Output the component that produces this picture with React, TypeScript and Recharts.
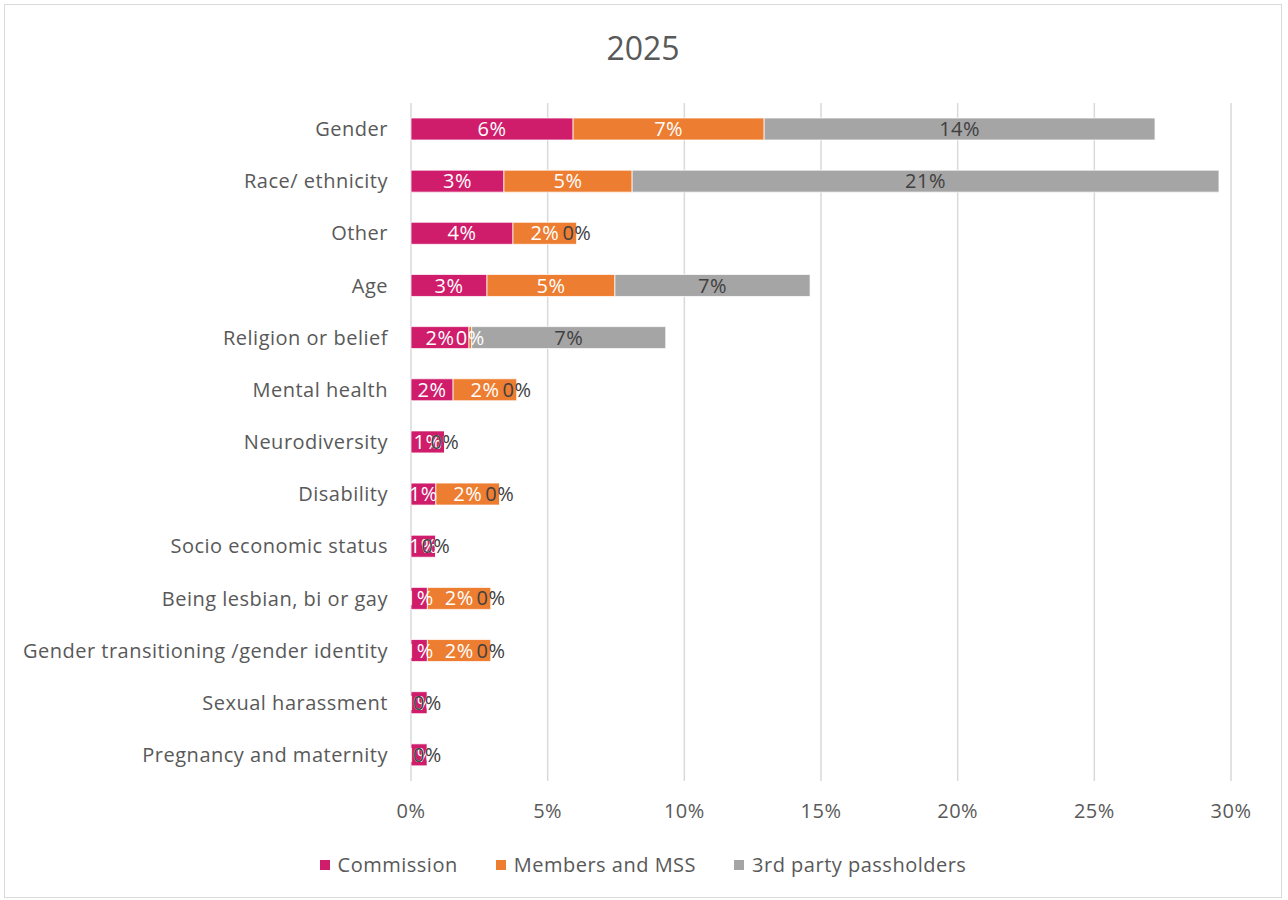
import React from "react";
import {
  BarChart,
  Bar,
  XAxis,
  YAxis,
  CartesianGrid,
  LabelList,
} from "recharts";

// Categories, top to bottom
const categories = [
  "Gender",
  "Race/ ethnicity",
  "Other",
  "Age",
  "Religion or belief",
  "Mental health",
  "Neurodiversity",
  "Disability",
  "Socio economic status",
  "Being lesbian, bi or gay",
  "Gender transitioning /gender identity",
  "Sexual harassment",
  "Pregnancy and maternity",
];

// Share of reports (%) per group
const commission = [5.93, 3.4, 3.73, 2.78, 2.12, 1.54, 1.24, 0.91, 0.91, 0.6, 0.6, 0.6, 0.6];
const members = [6.99, 4.69, 2.34, 4.68, 0.1, 2.34, 0, 2.34, 0, 2.33, 2.33, 0, 0];
const thirdParty = [14.3, 21.47, 0, 7.14, 7.1, 0, 0, 0, 0, 0, 0, 0, 0];

const xTicks = [0, 5, 10, 15, 20, 25, 30];

const series = [
  { key: "commission", name: "Commission", color: "#CF1D6B", labelColor: "#ffffff" },
  { key: "members", name: "Members and MSS", color: "#ED7D31", labelColor: "#ffffff" },
  { key: "thirdParty", name: "3rd party passholders", color: "#A5A5A5", labelColor: "#404040" },
];

const data = categories.map((name, i) => ({
  name,
  commission: commission[i],
  members: members[i],
  thirdParty: thirdParty[i],
}));

const FONT = "'Open Sans', 'Noto Sans', sans-serif";
const FS = 20;
const LS = "0.5px";
const pct = (v: any) => `${Math.round(Number(v))}%`;

export default function App() {
  return (
    <div
      style={{
        position: "absolute",
        left: 0,
        top: 0,
        width: 1288,
        height: 900,
        background: "#fff",
        fontFamily: FONT,
      }}
    >
      <div
        style={{
          position: "absolute",
          left: 4,
          top: 4,
          width: 1278,
          height: 894,
          border: "1px solid #d9d9d9",
          boxSizing: "border-box",
        }}
      >
        {/* Title */}
        <div
          style={{
            position: "absolute",
            top: 21,
            left: 0,
            width: "100%",
            textAlign: "center",
            fontSize: 32,
            color: "#595959",
          }}
        >
          2025
        </div>

        <BarChart
          width={1276}
          height={892}
          data={data}
          layout="vertical"
          margin={{ top: 98, right: 50, left: 10, bottom: 86 }}
          barSize={22}
        >
          <CartesianGrid horizontal={false} stroke="#d9d9d9" strokeWidth={1.5} />
          <XAxis
            type="number"
            domain={[0, 30]}
            ticks={xTicks}
            tickFormatter={(v) => `${v}%`}
            axisLine={false}
            tickLine={false}
            tickMargin={17}
            tick={{ fill: "#595959", fontSize: FS, fontFamily: FONT, letterSpacing: LS }}
          />
          <YAxis
            type="category"
            dataKey="name"
            width={396}
            axisLine={false}
            tickLine={false}
            tickMargin={17}
            interval={0}
            tick={{ fill: "#595959", fontSize: FS, fontFamily: FONT, letterSpacing: LS }}
          />
          {series.map((s) => (
            <Bar
              key={s.key}
              dataKey={s.key}
              name={s.name}
              stackId="a"
              fill={s.color}
              stroke="#ffffff"
              strokeWidth={0.75}
              minPointSize={0.01}
              isAnimationActive={false}
            >
              <LabelList
                dataKey={s.key}
                position="center"
                formatter={pct}
                fill={s.labelColor}
                fontSize={FS}
                fontFamily={FONT}
                letterSpacing={LS}
              />
            </Bar>
          ))}
        </BarChart>

        {/* Legend */}
        <div
          style={{
            position: "absolute",
            top: 846,
            left: 0,
            width: "100%",
            display: "flex",
            justifyContent: "center",
            gap: 38,
            fontSize: FS,
            letterSpacing: LS,
            color: "#595959",
          }}
        >
          {series.map((s) => (
            <div key={s.key} style={{ display: "flex", alignItems: "center" }}>
              <span
                style={{
                  display: "inline-block",
                  width: 10,
                  height: 10,
                  background: s.color,
                  marginRight: 8,
                }}
              />
              <span>{s.name}</span>
            </div>
          ))}
        </div>
      </div>
    </div>
  );
}
